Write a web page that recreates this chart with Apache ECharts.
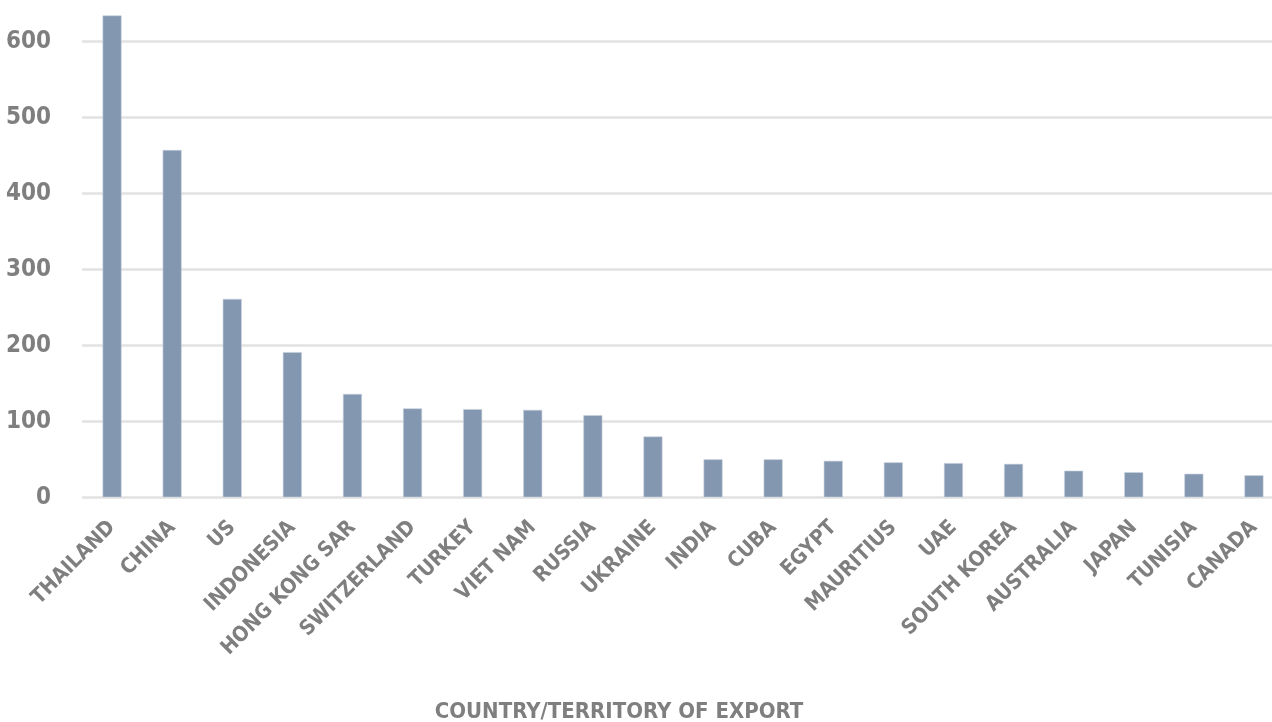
<!DOCTYPE html>
<html>
<head>
<meta charset="utf-8">
<script src="https://cdn.jsdelivr.net/npm/echarts@6/dist/echarts.min.js"></script>
<style>
html,body{margin:0;padding:0;background:#fff;}
#chart{width:1272px;height:722px;}
</style>
</head>
<body>
<div id="chart"></div>
<script>
const categories = ["THAILAND","CHINA","US","INDONESIA","HONG KONG SAR","SWITZERLAND","TURKEY","VIET NAM","RUSSIA","UKRAINE","INDIA","CUBA","EGYPT","MAURITIUS","UAE","SOUTH KOREA","AUSTRALIA","JAPAN","TUNISIA","CANADA"];
const values = [634,457,261,191,136,117,116,115,108,80,50,50,48,46,45,44,35,33,31,29];
const xAxisTitle = "COUNTRY/TERRITORY OF EXPORT";

const FONT = '"DejaVu Sans Condensed", sans-serif';
const chart = echarts.init(document.getElementById('chart'), null, {renderer:'canvas'});
chart.setOption({
  animation:false,
  grid:{left:82, right:-12, top:41.3, height:456, containLabel:false, outerBoundsMode:'none'},
  xAxis:{
    type:'category',
    data:categories,
    axisLine:{show:false},
    axisTick:{show:false},
    axisLabel:{rotate:45, interval:0, margin:27, color:'#7f7f7f', fontFamily:FONT, fontWeight:'bold', fontSize:21, hideOverlap:false}
  },
  yAxis:{
    type:'value',
    min:0, max:600, interval:100,
    axisLine:{show:false},
    axisTick:{show:false},
    axisLabel:{margin:31, color:'#7f7f7f', fontFamily:FONT, fontWeight:'bold', fontSize:24},
    splitLine:{lineStyle:{color:'#e2e2e2', width:2.5}}
  },
  series:[{
    type:'bar',
    data:values,
    barWidth:19,
    clip:false,
    itemStyle:{color:'#8497b0', borderColor:'#c6d0de', borderWidth:0.6}
  }],
  graphic:[{
    type:'text',
    x:619, y:712,
    style:{text:xAxisTitle, fill:'#7f7f7f', font:'bold 22px ' + FONT, textAlign:'center', textVerticalAlign:'middle'}
  }]
});
</script>
</body>
</html>
